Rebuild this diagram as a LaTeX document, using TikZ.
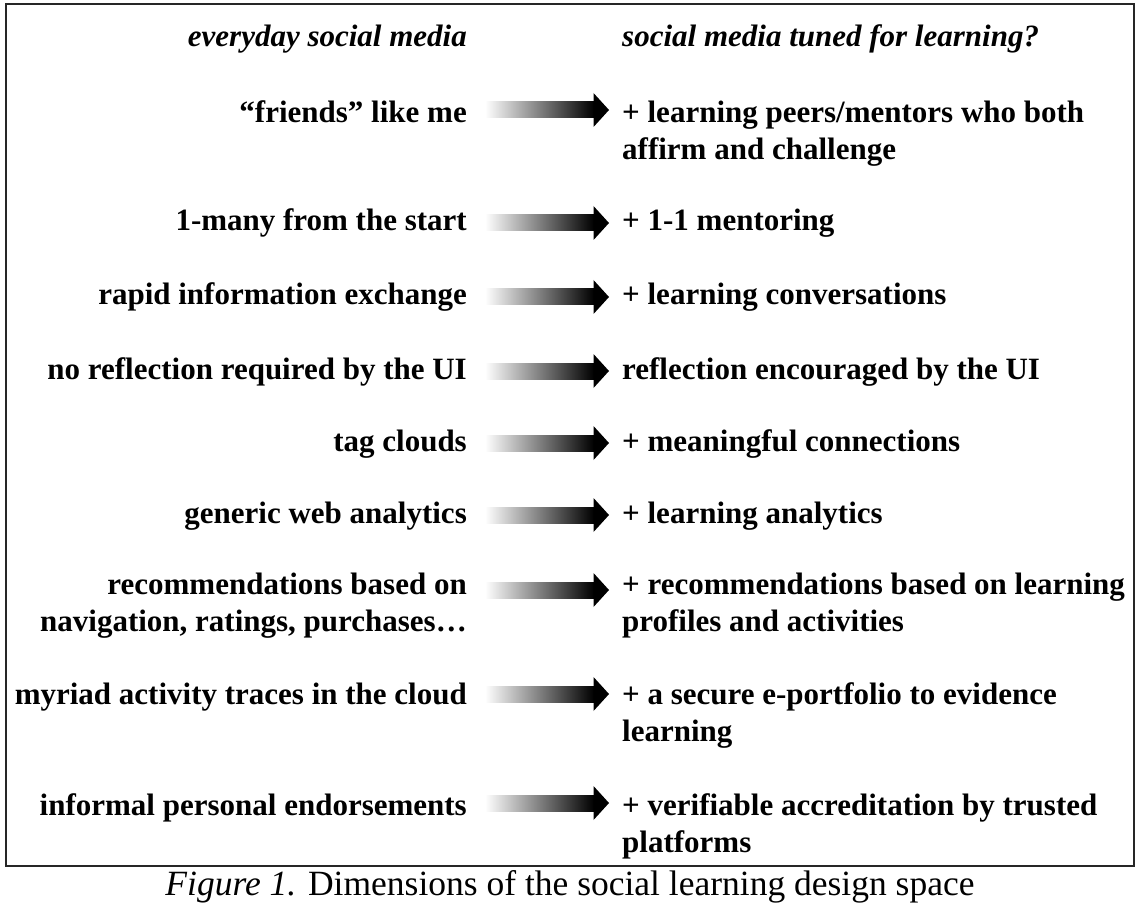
\documentclass[tikz,border=0pt]{standalone}
\usepackage{fontspec}
\setmainfont{Liberation Serif}
\usetikzlibrary{calc}
\begin{document}
\begin{tikzpicture}[x=1pt,y=-1pt,
  lbl/.style={font=\fontsize{31}{37}\selectfont\bfseries, inner sep=0pt},
  lft/.style={lbl, anchor=base east, align=right},
  rgt/.style={lbl, anchor=base west, align=left},
  hdr/.style={font=\fontsize{31}{37}\selectfont\bfseries\itshape, inner sep=0pt},
  frame/.style={draw=black!85, line width=1.6pt},
  captext/.style={font=\fontsize{35.5}{42}\selectfont, inner sep=0pt, anchor=base}]
\useasboundingbox (0,0) rectangle (1144,920);

% outer frame
\draw[frame] (6,4) rectangle (1134,866);

% gradient arrow between two named points: fading shaft, solid head
\newcommand{\fadearrow}[2]{%
  \shade[left color=white, right color=black]
    ($(#1)+(0,-8)$) rectangle ($(#2)+(-15,8)$);
  \fill[black] ($(#2)+(-15.5,-17)$) -- (#2) -- ($(#2)+(-15.5,17)$) -- cycle;}

% column headers
\node[hdr, anchor=base east] (hl) at (467,47) {everyday social media};
\node[hdr, anchor=base west] (hr) at (622,47) {social media tuned for learning?};

% rows (two-line nodes are placed by the baseline of their last line)
\node[lft] (l1) at (467,123) {“friends” like me};
\node[rgt] (r1) at (622,160) {+ learning peers/mentors who both\\affirm and challenge};
\node[lft] (l2) at (467,231) {1-many from the start};
\node[rgt] (r2) at (622,231) {+ 1-1 mentoring};
\node[lft] (l3) at (467,305) {rapid information exchange};
\node[rgt] (r3) at (622,305) {+ learning conversations};
\node[lft] (l4) at (467,379) {no reflection required by the UI};
\node[rgt] (r4) at (622,379) {reflection encouraged by the UI};
\node[lft] (l5) at (467,451) {tag clouds};
\node[rgt] (r5) at (622,451) {+ meaningful connections};
\node[lft] (l6) at (467,523) {generic web analytics};
\node[rgt] (r6) at (622,523) {+ learning analytics};
\node[lft] (l7) at (467,631) {recommendations based on\\navigation, ratings, purchases…};
\node[rgt] (r7) at (622,631) {+ recommendations based on learning\\profiles and activities};
\node[lft] (l8) at (467,704) {myriad activity traces in the cloud};
\node[rgt] (r8) at (622,741) {+ a secure e-portfolio to evidence\\learning};
\node[lft] (l9) at (467,815) {informal personal endorsements};
\node[rgt] (r9) at (622,852) {+ verifiable accreditation by trusted\\platforms};

% arrow end points
\foreach \i/\y in {1/110,2/223,3/297,4/371,5/443,6/515,7/590,8/694,9/803}{
  \coordinate (s\i) at (485,\y);
  \coordinate (e\i) at (609,\y);
  \fadearrow{s\i}{e\i}
}

% caption
\node[captext] (caption) at (570,895) {\textit{Figure 1.} Dimensions of the social learning design space};
\end{tikzpicture}
\end{document}
